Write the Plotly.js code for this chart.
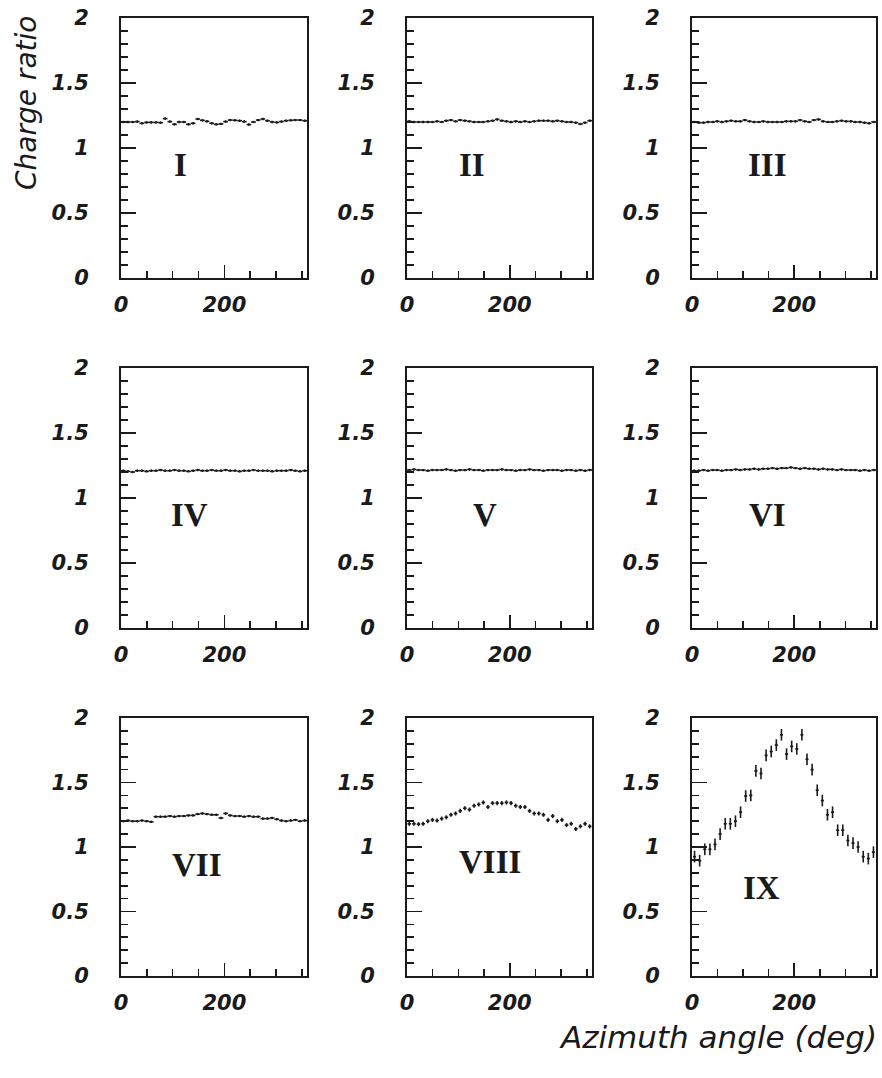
<!DOCTYPE html>
<html>
<head>
<meta charset="utf-8">
<script src="https://cdn.plot.ly/plotly-3.0.1.min.js"></script>
<style>html,body{margin:0;padding:0;background:#fff;}#chart{width:882px;height:1078px;}</style>
</head>
<body>
<div id="chart"></div>
<script>
// ---- data ----
const panelNames = ["I","II","III","IV","V","VI","VII","VIII","IX"];
const anglesFine = [4.5,13.5,22.5,31.5,40.5,49.5,58.5,67.5,76.5,85.5,94.5,103.5,112.5,121.5,130.5,139.5,148.5,157.5,166.5,175.5,184.5,193.5,202.5,211.5,220.5,229.5,238.5,247.5,256.5,265.5,274.5,283.5,292.5,301.5,310.5,319.5,328.5,337.5,346.5,355.5];
const anglesIX = [5,15,25,35,45,55,65,75,85,95,105,115,125,135,145,155,165,175,185,195,205,215,225,235,245,255,265,275,285,295,305,315,325,335,345,355];

const ratioI = [1.20,1.20,1.20,1.203,1.19,1.197,1.197,1.197,1.195,1.226,1.203,1.182,1.20,1.20,1.182,1.19,1.223,1.213,1.205,1.19,1.182,1.185,1.203,1.215,1.213,1.21,1.203,1.18,1.20,1.215,1.223,1.21,1.20,1.197,1.203,1.21,1.213,1.215,1.215,1.21];
const ratioII = [1.205,1.20,1.20,1.20,1.20,1.20,1.205,1.20,1.21,1.215,1.205,1.215,1.21,1.205,1.20,1.20,1.20,1.205,1.21,1.22,1.21,1.205,1.20,1.205,1.20,1.205,1.20,1.205,1.21,1.21,1.21,1.205,1.21,1.205,1.20,1.20,1.195,1.185,1.195,1.21];
const ratioIII = [1.20,1.195,1.195,1.20,1.20,1.205,1.20,1.205,1.21,1.205,1.205,1.215,1.205,1.20,1.20,1.205,1.20,1.20,1.20,1.20,1.205,1.205,1.205,1.215,1.205,1.20,1.215,1.22,1.205,1.20,1.20,1.205,1.21,1.205,1.205,1.20,1.20,1.195,1.19,1.20];
const ratioIV = [1.21,1.205,1.20,1.21,1.21,1.205,1.21,1.21,1.215,1.21,1.21,1.215,1.21,1.21,1.205,1.21,1.215,1.21,1.21,1.215,1.21,1.21,1.215,1.21,1.21,1.205,1.21,1.21,1.215,1.21,1.21,1.21,1.205,1.21,1.21,1.21,1.215,1.21,1.205,1.21];
const ratioV = [1.215,1.22,1.215,1.215,1.21,1.215,1.215,1.215,1.22,1.215,1.21,1.215,1.215,1.22,1.215,1.215,1.21,1.215,1.215,1.215,1.22,1.215,1.215,1.21,1.215,1.215,1.22,1.215,1.215,1.21,1.215,1.215,1.215,1.21,1.215,1.215,1.21,1.215,1.21,1.215];
const ratioVI = [1.21,1.21,1.215,1.21,1.215,1.215,1.21,1.215,1.215,1.22,1.215,1.22,1.22,1.225,1.22,1.225,1.225,1.23,1.225,1.23,1.23,1.235,1.23,1.225,1.23,1.225,1.225,1.22,1.225,1.22,1.22,1.215,1.22,1.215,1.215,1.215,1.21,1.215,1.21,1.215];
const ratioVII = [1.20,1.205,1.20,1.20,1.205,1.20,1.195,1.235,1.235,1.235,1.24,1.235,1.24,1.24,1.245,1.245,1.255,1.26,1.255,1.25,1.25,1.225,1.26,1.245,1.24,1.24,1.235,1.24,1.235,1.235,1.22,1.22,1.225,1.215,1.205,1.20,1.205,1.21,1.20,1.205];
const ratioVIII = [1.18,1.18,1.177,1.18,1.20,1.21,1.205,1.22,1.23,1.25,1.26,1.28,1.30,1.29,1.32,1.33,1.345,1.31,1.34,1.34,1.34,1.345,1.34,1.32,1.31,1.31,1.28,1.26,1.26,1.25,1.21,1.24,1.20,1.21,1.17,1.18,1.14,1.16,1.18,1.16];
const ratioIX = [0.925,0.894,0.982,0.982,1.02,1.10,1.18,1.18,1.20,1.27,1.395,1.40,1.59,1.57,1.71,1.74,1.79,1.87,1.72,1.78,1.76,1.87,1.68,1.60,1.44,1.36,1.25,1.27,1.13,1.13,1.05,1.03,1.00,0.925,0.91,0.96];

const seriesList = [ratioI,ratioII,ratioIII,ratioIV,ratioV,ratioVI,ratioVII,ratioVIII,ratioIX];

// ---- layout geometry (pixels) ----
const W = 882, H = 1078;
const colPx = [[121,307],[407,592],[692,876]];
const rowPx = [[18,278],[368,628],[718,976]];
const labelPos = [[0.32,0.435],[0.35,0.435],[0.41,0.435],[0.37,0.435],[0.42,0.435],[0.41,0.435],[0.41,0.43],[0.45,0.44],[0.38,0.34]];

const ink = '#1a1a1a';
const tickFont = {family:'DejaVu Sans', size:21, color:ink, style:'italic', weight:'bold'};

const data = [];
const layout = {
  width: W, height: H,
  margin: {l:0, r:0, t:0, b:0},
  paper_bgcolor: '#fff', plot_bgcolor: '#fff',
  showlegend: false,
  annotations: []
};

for (let i = 0; i < 9; i++) {
  const r = Math.floor(i/3), c = i % 3;
  const xa = i === 0 ? 'xaxis' : 'xaxis' + (i+1);
  const ya = i === 0 ? 'yaxis' : 'yaxis' + (i+1);
  const xr = i === 0 ? 'x' : 'x' + (i+1);
  const yr = i === 0 ? 'y' : 'y' + (i+1);
  const isIX = i === 8;
  const xs = isIX ? anglesIX : anglesFine;
  const ex = isIX ? 3 : (i === 7 ? 3.5 : 4.5);
  const ey = isIX ? 0.045 : (i === 7 ? 0.016 : 0.009);
  data.push({
    type: 'scatter', mode: 'markers',
    x: xs, y: seriesList[i],
    xaxis: xr, yaxis: yr,
    marker: {size: 2, color: ink},
    error_x: {type:'constant', value: ex, width: 0, thickness: 1.6, color: ink},
    error_y: {type:'constant', value: ey, width: 0, thickness: 1.6, color: ink},
    hoverinfo: 'skip'
  });
  layout[xa] = {
    domain: [colPx[c][0]/W, colPx[c][1]/W],
    range: [0, 360],
    anchor: yr,
    tickmode: 'linear', tick0: 0, dtick: 200,
    ticks: 'inside', ticklen: 13, tickwidth: 1.6, tickcolor: ink,
    minor: {tickmode:'linear', tick0: 0, dtick: 50, ticks: 'inside', ticklen: 7, tickwidth: 1.6, tickcolor: ink, showgrid: false},
    showline: true, linecolor: ink, linewidth: 2, mirror: true,
    showgrid: false, zeroline: false,
    tickfont: tickFont,
    ticklabelstandoff: 7,
    fixedrange: true
  };
  layout[ya] = {
    domain: [1 - rowPx[r][1]/H, 1 - rowPx[r][0]/H],
    range: [0, 2],
    anchor: xr,
    tickmode: 'linear', tick0: 0, dtick: 0.5,
    ticks: 'inside', ticklen: 15, tickwidth: 1.6, tickcolor: ink,
    minor: {tickmode:'linear', tick0: 0, dtick: 0.1, ticks: 'inside', ticklen: 7, tickwidth: 1.6, tickcolor: ink, showgrid: false},
    showline: true, linecolor: ink, linewidth: 2, mirror: true,
    showgrid: false, zeroline: false,
    tickfont: tickFont,
    ticklabelstandoff: 26,
    fixedrange: true
  };
  layout.annotations.push({
    text: panelNames[i],
    xref: xr + ' domain', yref: yr + ' domain',
    x: labelPos[i][0], y: labelPos[i][1],
    xanchor: 'center', yanchor: 'middle',
    showarrow: false,
    font: {family: 'Liberation Serif', size: 33, color: ink, weight: 'bold'}
  });
}

layout.annotations.push({
  text: 'Charge ratio',
  xref: 'paper', yref: 'paper',
  x: 26/W, y: 1 - 103/H,
  xanchor: 'center', yanchor: 'middle',
  textangle: -90, showarrow: false,
  font: {family: 'DejaVu Sans', size: 28, color: ink, style: 'italic'}
});
layout.annotations.push({
  text: 'Azimuth angle (deg)',
  xref: 'paper', yref: 'paper',
  x: 879/W, y: 1 - 1037/H,
  xanchor: 'right', yanchor: 'middle',
  showarrow: false,
  font: {family: 'DejaVu Sans', size: 31, color: ink, style: 'italic'}
});

Plotly.newPlot('chart', data, layout, {staticPlot: true, displayModeBar: false});
</script>
</body>
</html>
